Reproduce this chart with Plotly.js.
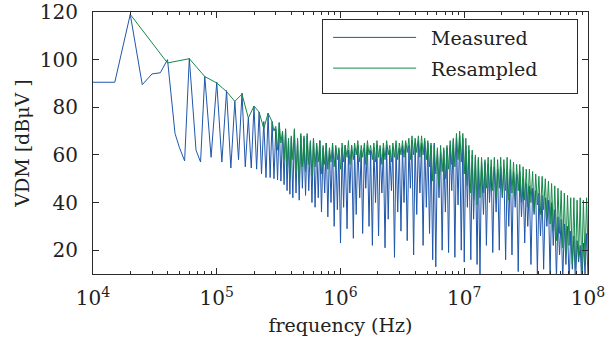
<!DOCTYPE html>
<html><head><meta charset="utf-8">
<script src="https://cdn.plot.ly/plotly-3.0.1.min.js"></script>
<style>html,body{margin:0;padding:0;background:#fff}#chart{width:616px;height:352px}</style>
</head><body><div id="chart"></div>
<script>
// frequency samples in kHz
const freqKHz = [
10,15,20,25,30,35,40,46,50,55,60,68,74,80,
90,100,110,120,130,140,150,160,170,180,
190,200,210,220,230,240,250,260,270,280,
290,300,310,320,330,340,350,360,370,380,390,
400,412,424,437,450,464,478,492,507,522,
538,554,571,588,605,623,642,661,681,702,
723,745,767,790,814,838,863,889,916,943,
971,1000,
1030,1060,1090,1130,1160,1190,1230,1270,1300,1340,
1380,1430,1470,1510,1560,1600,1650,1700,1750,1810,
1860,1920,1970,2030,2090,2160,2220,2290,2360,2430,
2500,2580,2650,2730,2810,2900,2990,3080,
3170,3260,3360,3460,3570,3670,3780,3900,4010,4130,
4260,4380,4520,4650,4790,4940,5080,5240,5390,5560,
5720,5890,6070,6250,6440,6630,6830,7040,7250,7470,
7690,7920,8160,8400,8650,8910,9180,9460,9740,
10000,10300,10600,10900,11300,11600,11900,12300,12700,13000,
13400,13800,14300,14700,15100,15600,16000,16500,17000,17500,
18100,18600,19200,19700,20300,20900,21600,22200,22900,23600,
24300,25000,25800,26500,27300,28100,29000,29900,30800,31700,
32600,33600,34600,35700,36700,37800,39000,40100,41300,42600,
43800,45200,46500,47900,49400,50800,52400,53900,55600,57200,
58900,60700,62500,64400,66300,68300,70400,72500,74700,76900,
79200,81600,84000,86500,89100,91800,94600,97400,100000
];

// Measured VDM (dBuV)
const measured = [
90.5,90.5,119,89.5,94,94.5,100,69,63,57.5,100.5,62,57,93,
59,90.5,57,87,54.5,82.5,58,86,55,75.5,
54.5,80.5,54,78,52,74,50.5,77.5,50.5,74,
50,71,49.5,73.5,49,69.5,47.5,70.5,45,66,43.5,
67,42,70,44,66,41,68,46,67,43,
68,45,65,40,67,38,64,42,66,36,
63,44,65,34,62,40,64,30,63,37,
62,23,
63,38,64,29,62,44,64,25,63,35,
64,42,62,27,63,46,64,30,62,22,
63,40,64,26,62,44,63,21,64,33,
62,45,63,17,64,36,63,28,
64,40,65,24,64,46,66,18,65,35,
66,44,65,22,66,38,65,27,64,16,
65,13,62,42,61,20,62,36,63,19,
64,45,66,17,67,39,68,20,67,
15,64,38,62,16,60,33,59,14,58,
10,57,35,57,22,56,40,55,19,55,
36,54,20,55,42,54,16,53,30,54,
18,53,38,52,11,53,34,50,23,48,
30,47,14,46,35,45,10,44,26,43,
12,42,30,41,9,40,22,37,8,34,
18,33,7,31,14,30,6,28,12,26,
5,24,15,22,5,23,10,27,8
];

// Resampled VDM (dBuV); null where the resampled curve has no sample
const resampled = [
null,null,119,null,null,null,98.6,null,null,null,100.4,null,null,92.9,
null,90.2,null,86.6,null,82.5,null,85.5,null,75.5,
null,80.5,null,78,null,71,null,77.5,null,74,
70,72,62,73.5,65,70,58,71,55,67,50,
68,58,71,52,67,48,69,55,68,53,
69,56,66,51,67,55,65,57,66,52,
64,56,65,54,63,57,65,55,64,58,
63,54,
65,57,64,59,66,56,64,58,65,60,
66,57,64,59,65,56,66,60,64,58,
65,57,66,59,64,56,65,58,66,60,
64,57,65,59,66,58,65,60,
66,59,66,61,67,58,68,60,67,61,
68,59,68,60,67,58,66,55,65,49,
64,52,63,47,64,53,63,50,64,54,
66,56,67,55,69,58,70,57,69,
52,67,47,64,44,62,41,60,39,59,
42,59,44,58,46,59,44,58,45,59,
42,58,46,59,43,58,45,59,41,58,
44,57,42,56,45,56,40,55,41,54,
38,54,40,53,36,52,39,51,35,51,
37,50,34,49,31,48,28,47,24,46,
27,45,21,44,18,43,22,42,14,42,
12,41,17,42,11,41,15,42,20
];

const seriesNames = ['Measured', 'Resampled'];
const xTickVals = [1e4, 1e5, 1e6, 1e7, 1e8];
const xTickText = ['10<sup>4</sup>', '10<sup>5</sup>', '10<sup>6</sup>', '10<sup>7</sup>', '10<sup>8</sup>'];
const yTickVals = [20, 40, 60, 80, 100, 120];

const freqHz = freqKHz.map(f => f * 1000);
const FONT = '"DejaVu Serif", serif';
const AX = '#2a2a2a';
const TXT = '#222222';

const traces = [
  {x: freqHz, y: measured, type: 'scatter', mode: 'lines', name: seriesNames[0],
   line: {color: '#1f57aa', width: 1}},
  {x: freqHz, y: resampled, type: 'scatter', mode: 'lines', name: seriesNames[1],
   connectgaps: true, line: {color: '#16884a', width: 1}}
];

const layout = {
  width: 616, height: 352,
  margin: {l: 93, r: 28, t: 12, b: 78},
  paper_bgcolor: '#ffffff', plot_bgcolor: '#ffffff',
  font: {family: FONT, size: 20, color: TXT},
  showlegend: true,
  legend: {x: 0.98, xanchor: 'right', y: 0.975, yanchor: 'top',
           bordercolor: AX, borderwidth: 1, bgcolor: '#ffffff',
           font: {family: FONT, size: 19, color: TXT}, itemwidth: 98, tracegroupgap: 0},
  xaxis: {
    type: 'log', range: [4, 8], tickmode: 'array', tickvals: xTickVals, ticktext: xTickText,
    showline: true, linecolor: AX, linewidth: 1, mirror: 'ticks',
    ticks: 'inside', ticklen: 6, tickcolor: AX, showgrid: false, zeroline: false,
    ticklabelstandoff: 6, tickfont: {family: FONT, size: 20, color: TXT},
    minor: {dtick: 'D1', ticks: 'inside', ticklen: 3, tickcolor: AX, showgrid: false},
    title: {text: 'frequency (Hz)', font: {family: FONT, size: 19, color: TXT}, standoff: 9}
  },
  yaxis: {
    range: [10, 120], tickmode: 'array', tickvals: yTickVals,
    showline: true, linecolor: AX, linewidth: 1, mirror: 'ticks',
    ticks: 'inside', ticklen: 6, tickcolor: AX, showgrid: false, zeroline: false,
    ticklabelstandoff: 10, tickfont: {family: FONT, size: 20, color: TXT},
    title: {text: 'VDM [dBμV ]', font: {family: FONT, size: 19, color: TXT}, standoff: 5}
  }
};

function parseTranslate(el) {
  const m = /translate\(\s*([-\d.e]+)[\s,]+([-\d.e]+)\s*\)/.exec(el.getAttribute('transform') || '');
  return m ? [parseFloat(m[1]), parseFloat(m[2])] : null;
}

Plotly.newPlot('chart', traces, layout, {displayModeBar: false, staticPlot: true}).then(gd => {
  gd.querySelectorAll('.legend .legendlines path').forEach(p => p.setAttribute('d', 'M10,0h83'));
  const lg = gd.querySelector('g.legend');
  if (!lg) return;
  const bg = lg.querySelector('rect.bg');
  if (!bg) return;
  const w = parseFloat(bg.getAttribute('width'));
  const h = parseFloat(bg.getAttribute('height'));
  const dw = 255 - w;
  const dh = 74 - h;
  if (dw > 0) bg.setAttribute('width', 255);
  if (dh > 0) bg.setAttribute('height', 74);
  const t = parseTranslate(lg);
  if (t && dw > 0) lg.setAttribute('transform', 'translate(' + (t[0] - dw) + ',' + t[1] + ')');
  const shifts = [-1, 2];
  lg.querySelectorAll('g.traces').forEach((g, i) => {
    const tt = parseTranslate(g);
    if (tt && shifts[i] !== undefined) g.setAttribute('transform', 'translate(' + tt[0] + ',' + (tt[1] + shifts[i]) + ')');
  });
});
</script>
</body></html>
